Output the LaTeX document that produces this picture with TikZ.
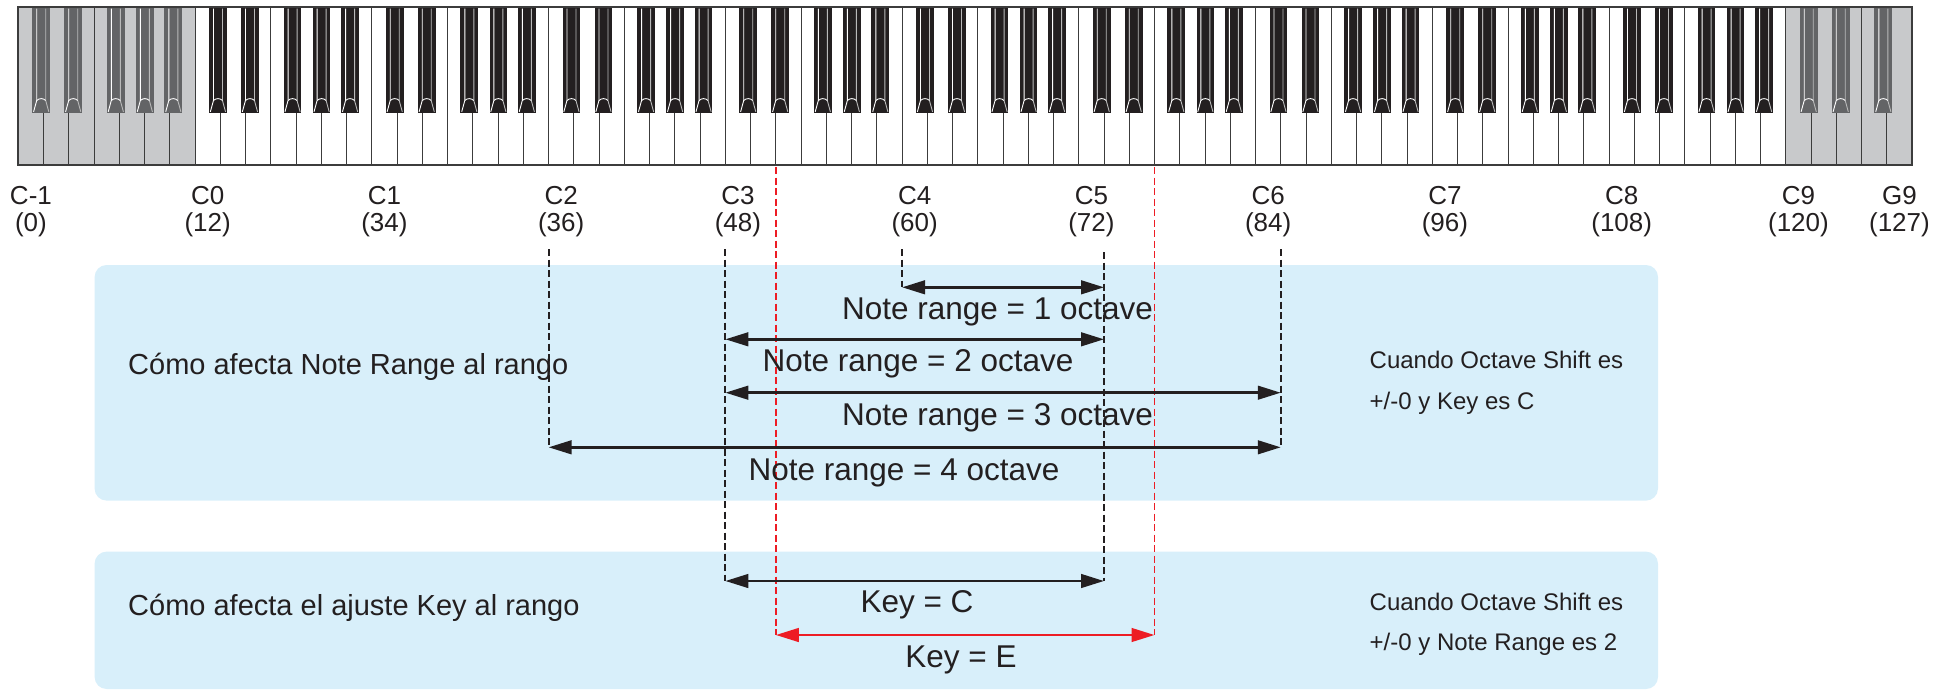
\documentclass[tikz,border=0pt]{standalone}
\usepackage{fontspec}
\setmainfont{Liberation Sans}
\usetikzlibrary{arrows.meta}
\definecolor{boxblue}{RGB}{216,239,250}
\definecolor{keygray}{RGB}{200,201,203}
\definecolor{bkblack}{RGB}{35,31,32}
\definecolor{bkgray}{RGB}{99,100,102}
\definecolor{keyline}{RGB}{60,60,60}
\definecolor{hlgray}{RGB}{185,185,185}
\definecolor{txt}{RGB}{35,31,32}
\definecolor{redline}{RGB}{237,28,36}
\tikzset{
  lbl/.style={font=\fontsize{26}{28}\selectfont, text=txt, inner sep=0pt, anchor=base},
  rnglbl/.style={font=\fontsize{31.5}{33}\selectfont, text=txt, inner sep=0pt, anchor=base},
  desc/.style={font=\fontsize{29}{31}\selectfont, text=txt, inner sep=0pt, anchor=base west},
  note/.style={font=\fontsize{24}{26}\selectfont, text=txt, inner sep=0pt, anchor=base west},
  infobox/.style={fill=boxblue, rounded corners=12pt},
  guide/.style={draw=bkblack, line width=2pt, dash pattern=on 7pt off 3.5pt},
  redguide/.style={draw=redline, line width=1.8pt, dash pattern=on 7pt off 3.5pt},
  rangearrow/.style={draw=bkblack, line width=2.8pt, {Triangle[length=23pt,width=13.5pt]}-{Triangle[length=23pt,width=13.5pt]}},
  redarrow/.style={draw=redline, line width=2.8pt, {Triangle[length=23pt,width=13.5pt]}-{Triangle[length=23pt,width=13.5pt]}},
  whiteline/.style={draw=keyline, line width=1.1pt},
}
\begin{document}
\begin{tikzpicture}[x=1pt,y=-1pt]
\useasboundingbox (0,0) rectangle (1952,689);

% ---------- info boxes ----------
\fill[infobox] (94.6,265) rectangle (1658,500.6);
\fill[infobox] (94.6,551.6) rectangle (1658,689);

% ---------- keyboard ----------
\fill[white] (18.3,7.3) rectangle (1912.05,165);
\fill[keygray] (18.3,7.3) rectangle (195.05,165);
\fill[keygray] (1786.05,7.3) rectangle (1912.05,165);
\foreach \i in {1,...,74}{
  \draw[whiteline] ({18.3+\i*25.25},7.3) -- ({18.3+\i*25.25},165);
}
\foreach \o in {0,...,10}{
  \foreach \b/\off in {1/-2.35,2/4.4,4/-3.5,5/0.3,6/3.5}{
    \pgfmathtruncatemacro\skipkey{(\o==10)&&(\b>4)}
    \ifnum\skipkey=0
      \pgfmathsetmacro\cx{18.3+(7*\o+\b)*25.25+\off}
      \pgfmathtruncatemacro\isgrey{(\o==0)||(\o==10)}
      \ifnum\isgrey=1 \def\kc{bkgray}\else\def\kc{bkblack}\fi
      \fill[\kc] ({\cx-8.85},7.3) rectangle ({\cx+8.85},113.3);
      \draw[white, line width=0.9pt] ({\cx-4.5},8.5) -- ({\cx-4.5},100.5) -- ({\cx-7.6},111.8);
      \draw[hlgray, line width=0.9pt] ({\cx+4.5},8.5) -- ({\cx+4.5},100.5) -- ({\cx+7.6},111.8);
      \draw[white, line width=0.9pt] ({\cx-4.5},100.5) .. controls ({\cx-2},98) and ({\cx+2},98) .. ({\cx+4.5},100.5);
    \fi
  }
}
\draw[draw=keyline, line width=1.8pt] (18.3,7.3) rectangle (1912.05,165);

% ---------- key labels ----------
\foreach \n/\v/\i [count=\k] in {C-1/0/0, C0/12/7, C1/34/14, C2/36/21, C3/48/28, C4/60/35, C5/72/42, C6/84/49, C7/96/56, C8/108/63, C9/120/70, G9/127/74}{
  \node[lbl] (name\k) at ({18.3+(\i+0.5)*25.25},204) {\n};
  \node[lbl] (num\k) at ({18.3+(\i+0.5)*25.25},231) {(\v)};
}

% ---------- coordinates ----------
\coordinate (C2top) at (548.55,249);
\coordinate (C3top) at (725.3,249);
\coordinate (C4top) at (902.05,249);
\coordinate (C5top) at (1104.05,252);
\coordinate (C6top) at (1280.8,249);
\coordinate (E3top) at (775.8,167);
\coordinate (E5top) at (1154.55,167);

\coordinate (a1l) at (902.05,287.3);  \coordinate (a1r) at (1104.05,287.3);
\coordinate (a2l) at (725.3,339.3);   \coordinate (a2r) at (1104.05,339.3);
\coordinate (a3l) at (725.3,392.7);   \coordinate (a3r) at (1280.8,392.7);
\coordinate (a4l) at (548.55,447.3);  \coordinate (a4r) at (1280.8,447.3);
\coordinate (akl) at (725.3,581);     \coordinate (akr) at (1104.05,581);
\coordinate (ael) at (775.8,635);     \coordinate (aer) at (1154.55,635);

% ---------- guide lines ----------
\draw[guide] (C2top) -- (a4l);
\draw[guide] (C3top) -- (akl);
\draw[guide] (C4top) -- (a1l);
\draw[guide] (C5top) -- (akr);
\draw[guide] (C6top) -- (a4r);
\draw[redguide] (E3top) -- (ael);
\draw[redguide] (E5top) -- (aer);

% ---------- arrows ----------
\draw[rangearrow] (a1l) -- (a1r);
\draw[rangearrow] (a2l) -- (a2r);
\draw[rangearrow] (a3l) -- (a3r);
\draw[rangearrow] (a4l) -- (a4r);
\draw[rangearrow] (akl) -- (akr);
\draw[redarrow] (ael) -- (aer);

% ---------- texts ----------
\node[rnglbl] (t1) at (997.5,319) {Note range = 1 octave};
\node[rnglbl] (t2) at (918,371.7) {Note range = 2 octave};
\node[rnglbl] (t3) at (997.5,425.7) {Note range = 3 octave};
\node[rnglbl] (t4) at (904,480) {Note range = 4 octave};
\node[rnglbl] (tk) at (917,612.7) {Key = C};
\node[rnglbl] (te) at (961,667) {Key = E};

\node[desc] (d1) at (128,374) {Cómo afecta Note Range al rango};
\node[desc] (d2) at (128,615) {Cómo afecta el ajuste Key al rango};

\node[note] (n1a) at (1369.5,368.3) {Cuando Octave Shift es};
\node[note] (n1b) at (1369.5,409.5) {+/-0 y Key es C};
\node[note] (n2a) at (1369.5,610) {Cuando Octave Shift es};
\node[note] (n2b) at (1369.5,650) {+/-0 y Note Range es 2};
\end{tikzpicture}
\end{document}
